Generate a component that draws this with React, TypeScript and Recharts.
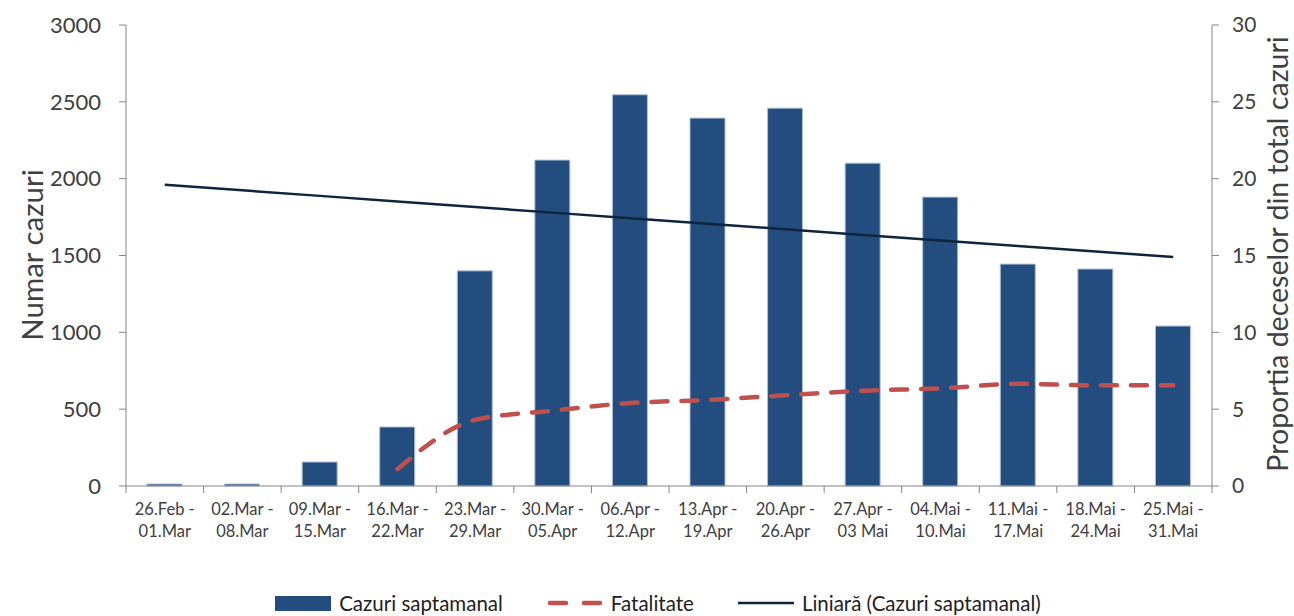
import { Bar, ComposedChart, Legend, Line, XAxis, YAxis } from "recharts";

const weekLabels = [
  "26.Feb -\n01.Mar",
  "02.Mar -\n08.Mar",
  "09.Mar -\n15.Mar",
  "16.Mar -\n22.Mar",
  "23.Mar -\n29.Mar",
  "30.Mar -\n05.Apr",
  "06.Apr -\n12.Apr",
  "13.Apr -\n19.Apr",
  "20.Apr -\n26.Apr",
  "27.Apr -\n03 Mai",
  "04.Mai -\n10.Mai",
  "11.Mai -\n17.Mai",
  "18.Mai -\n24.Mai",
  "25.Mai -\n31.Mai",
];

const weeklyCases = [13, 13, 156, 384, 1400, 2121, 2546, 2394, 2459, 2101, 1880, 1444, 1412, 1041];
const fatality = [null, null, null, 1.1, 4.3, 4.9, 5.4, 5.6, 5.9, 6.2, 6.35, 6.65, 6.55, 6.55];
const trendCases = [1960, 1924, 1888, 1851, 1815, 1779, 1743, 1707, 1671, 1634, 1598, 1562, 1526, 1490];

const leftTicks = [0, 500, 1000, 1500, 2000, 2500, 3000];
const rightTicks = [0, 5, 10, 15, 20, 25, 30];

const data = weekLabels.map((label, i) => ({
  label,
  cases: weeklyCases[i],
  fatality: fatality[i],
  trend: trendCases[i],
}));

const FONT = "Lato, 'Open Sans', sans-serif";
const TEXT = "#404040";
const AXIS = "#868686";
const BAR = "#234D7F";
const RED = "#C0504D";
const NAVY = "#0F243E";

const W = 1294;
const H = 616;
const LEFT = 126;
const RIGHT = 82;
const TOP = 25;
const BOTTOM = 130;
const BAND = (W - LEFT - RIGHT) / weekLabels.length;

function WeekTick(props: any) {
  const { x, y, payload } = props;
  const index = payload?.index ?? props.index ?? 0;
  const lines = String(payload.value).split("\n");
  const axisY = y - 8;
  return (
    <g>
      <line x1={x - BAND / 2} x2={x - BAND / 2} y1={axisY} y2={axisY + 7} stroke={AXIS} />
      {index === weekLabels.length - 1 && (
        <line x1={x + BAND / 2} x2={x + BAND / 2} y1={axisY} y2={axisY + 7} stroke={AXIS} />
      )}
      {lines.map((line, i) => (
        <text
          key={i}
          x={x}
          y={axisY + 29 + i * 22}
          textAnchor="middle"
          fill={TEXT}
          fontSize={16.5}
          fontFamily={FONT}
        >
          {line}
        </text>
      ))}
    </g>
  );
}

function ChartLegend() {
  const item = { display: "flex", alignItems: "center", gap: 8 } as const;
  return (
    <div
      style={{
        display: "flex",
        justifyContent: "center",
        gap: 44,
        fontFamily: FONT,
        fontSize: 20.5,
        color: "#222",
        marginLeft: 22,
      }}
    >
      <div style={item}>
        <svg width={56} height={16}>
          <rect x={0} y={1} width={56} height={15} fill={BAR} />
        </svg>
        <span>Cazuri saptamanal</span>
      </div>
      <div style={item}>
        <svg width={56} height={16}>
          <line x1={3} x2={53} y1={8} y2={8} stroke={RED} strokeWidth={4.5} strokeDasharray="16 18" strokeLinecap="round" />
        </svg>
        <span>Fatalitate</span>
      </div>
      <div style={item}>
        <svg width={56} height={16}>
          <line x1={0} x2={56} y1={8} y2={8} stroke={NAVY} strokeWidth={2.5} />
        </svg>
        <span>Liniară (Cazuri saptamanal)</span>
      </div>
    </div>
  );
}

export default function App() {
  return (
    <div style={{ position: "absolute", left: 0, top: 0, width: W, height: H, background: "#fff" }}>
      <ComposedChart
        width={W}
        height={H}
        data={data}
        margin={{ top: TOP, right: 0, bottom: 0, left: 0 }}
        barCategoryGap={0}
      >
        <XAxis
          dataKey="label"
          height={BOTTOM}
          interval={0}
          tickLine={false}
          axisLine={{ stroke: AXIS }}
          tick={<WeekTick />}
        />
        <YAxis
          yAxisId="left"
          width={LEFT}
          domain={[0, 3000]}
          ticks={leftTicks}
          tickSize={7}
          tickMargin={18}
          tickLine={{ stroke: AXIS }}
          axisLine={{ stroke: AXIS }}
          tick={{ fill: TEXT, fontSize: 22, fontFamily: FONT }}
          label={{
            content: () => (
              <text
                x={31}
                y={255}
                transform="rotate(-90, 31, 255)"
                textAnchor="middle"
                dominantBaseline="central"
                fill={TEXT}
                fontSize={29.5}
                fontFamily={FONT}
              >
                Numar cazuri
              </text>
            ),
          }}
        />
        <YAxis
          yAxisId="right"
          orientation="right"
          width={RIGHT}
          domain={[0, 30]}
          ticks={rightTicks}
          tickSize={7}
          tickMargin={13}
          tickLine={{ stroke: AXIS }}
          axisLine={{ stroke: AXIS }}
          tick={{ fill: TEXT, fontSize: 21, fontFamily: FONT, textAnchor: "start" }}
          label={{
            content: () => (
              <text
                x={1277}
                y={254}
                transform="rotate(-90, 1277, 254)"
                textAnchor="middle"
                dominantBaseline="central"
                fill={TEXT}
                fontSize={28.5}
                fontFamily={FONT}
              >
                Proportia deceselor din total cazuri
              </text>
            ),
          }}
        />
        <Bar
          yAxisId="left"
          dataKey="cases"
          name="Cazuri saptamanal"
          fill={BAR}
          stroke="#aebfd8"
          strokeWidth={1}
          barSize={35}
          isAnimationActive={false}
        />
        <Line
          yAxisId="right"
          dataKey="fatality"
          name="Fatalitate"
          type="monotone"
          stroke={RED}
          strokeWidth={4.5}
          strokeDasharray="16 14"
          strokeLinecap="round"
          dot={false}
          activeDot={false}
          isAnimationActive={false}
        />
        <Line
          yAxisId="left"
          dataKey="trend"
          name="Liniară (Cazuri saptamanal)"
          type="linear"
          stroke={NAVY}
          strokeWidth={2.5}
          dot={false}
          activeDot={false}
          isAnimationActive={false}
        />
        <Legend
          layout="horizontal"
          verticalAlign="middle"
          align="center"
          wrapperStyle={{ top: 591, left: 0, width: W }}
          content={() => <ChartLegend />}
        />
      </ComposedChart>
    </div>
  );
}
